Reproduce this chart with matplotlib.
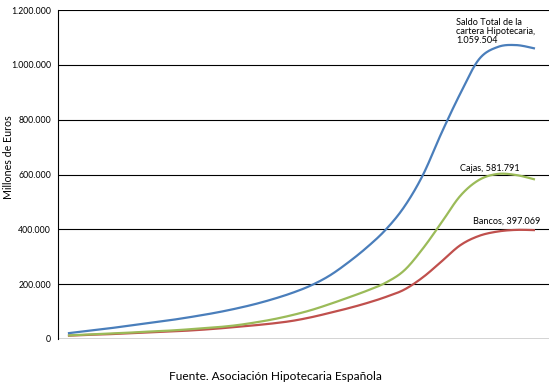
import numpy as np
import matplotlib
matplotlib.use("Agg")
import matplotlib.pyplot as plt
from matplotlib.ticker import FuncFormatter

years = list(range(1985, 2011))
total = [21, 29, 37, 46, 55, 64, 74, 85, 97, 111, 127, 146, 168, 195, 231, 279,
         334, 398, 482, 598, 752, 895, 1020, 1065, 1072, 1059.504]
cajas = [13, 16, 19, 22, 26, 29, 33, 38, 43, 50, 60, 72, 87, 105, 127, 151,
         176, 205, 250, 330, 425, 522, 580, 602, 598, 581.791]
bancos = [12, 15, 17, 20, 23, 26, 29, 33, 38, 44, 50, 57, 66, 79, 95, 112,
          131, 153, 180, 225, 283, 342, 376, 392, 398, 397.069]
yticks = [0, 200000, 400000, 600000, 800000, 1000000, 1200000]

def smooth(x, y, n=20):
    x = np.asarray(x, float); y = np.asarray(y, float)
    xs, ys = [], []
    for i in range(len(x) - 1):
        p0 = (x[i-1], y[i-1]) if i > 0 else (x[i], y[i])
        p1 = (x[i], y[i]); p2 = (x[i+1], y[i+1])
        p3 = (x[i+2], y[i+2]) if i + 2 < len(x) else (x[i+1], y[i+1])
        t = np.linspace(0, 1, n, endpoint=False)
        for k in range(2):
            a, b, c, d = p0[k], p1[k], p2[k], p3[k]
            v = 0.5 * ((2*b) + (-a + c)*t + (2*a - 5*b + 4*c - d)*t**2 + (-a + 3*b - 3*c + d)*t**3)
            (xs if k == 0 else ys).append(v)
    xs.append([x[-1]]); ys.append([y[-1]])
    return np.concatenate(xs), np.concatenate(ys)

fig = plt.figure(figsize=(5.6, 3.86), dpi=100)
ax = fig.add_axes([58/560, 47/386, 491/560, 329/386])
xi = np.arange(len(years))
for vals, col in [(bancos, '#C0504D'), (cajas, '#9BBB59'), (total, '#4A7EBB')]:
    sx, sy = smooth(xi, np.array(vals) * 1000)
    ax.plot(sx, sy, color=col, lw=1.6, solid_capstyle='butt', zorder=3)

ax.set_xlim(-0.53, 25.75)
ax.set_ylim(0, 1200000)
ax.set_yticks(yticks)
ax.yaxis.set_major_formatter(FuncFormatter(lambda v, p: f"{int(v):,}".replace(",", ".")))
ax.set_xticks([])
ax.tick_params(axis='y', length=0, labelsize=6.3, pad=5)
for lab in ax.get_yticklabels():
    lab.set_fontfamily('Lato')
ax.grid(axis='y', color='black', lw=0.8, zorder=1)
for s in ['top', 'right', 'bottom']:
    ax.spines[s].set_visible(False)
ax.spines['left'].set_color('black')
ax.spines['left'].set_linewidth(0.8)
ax.axhline(0, color='#606060', lw=1.0, zorder=2)
fig.text(9/560, 1 - 157/386, 'Millones de Euros', fontsize=7.7, family='Lato',
         rotation=90, ha='center', va='center')

ax.text(20.77, 1120000, 'Saldo Total de la\ncartera Hipotecaria,\n1.059.504', fontsize=6.6,
        family='Lato', va='center', ha='left', linespacing=1.0)
ax.text(20.99, 622000, 'Cajas, 581.791', fontsize=6.6, family='Lato', ha='left', va='center')
ax.text(21.67, 430000, 'Bancos, 397.069', fontsize=6.6, family='Lato', ha='left', va='center')

fig.text(275.5/560, 1 - 377/386, 'Fuente. Asociación Hipotecaria Española', fontsize=8.6,
         family='Lato', ha='center', va='center')
fig.savefig('out.png', dpi=100)
